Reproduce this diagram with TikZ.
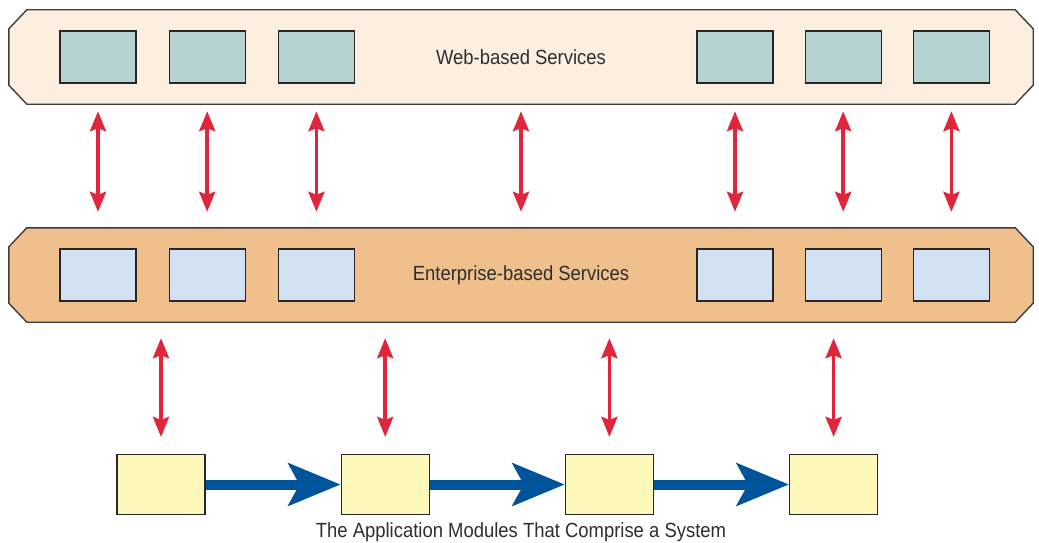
\documentclass[tikz,border=0pt]{standalone}
\usepackage{fontspec}
\setmainfont{Liberation Sans}[FakeStretch=0.9]
\usetikzlibrary{arrows.meta, positioning}

\definecolor{webfill}{HTML}{FDEFE0}
\definecolor{webboxfill}{HTML}{B5D3D1}
\definecolor{entfill}{HTML}{EFC08B}
\definecolor{entboxfill}{HTML}{D3E2F3}
\definecolor{modfill}{HTML}{FDF8B9}
\definecolor{linkred}{HTML}{E0253D}
\definecolor{flowblue}{HTML}{00559A}
\definecolor{edgegrey}{HTML}{3C3C3C}
\definecolor{textgrey}{HTML}{2E2E2E}

% chamfered outline round a band node
\newcommand{\bandoutline}[2]{%
  \draw[bandline, fill=#2] ([xshift=18pt]#1.north west) -- ([xshift=-18pt]#1.north east)
    -- ([yshift=-19pt]#1.north east) -- ([yshift=19pt]#1.south east)
    -- ([xshift=-18pt]#1.south east) -- ([xshift=18pt]#1.south west)
    -- ([yshift=19pt]#1.south west) -- ([yshift=-19pt]#1.north west) -- cycle;}

\begin{document}
\begin{tikzpicture}[
    x=1pt, y=-1pt,
    band/.style={rectangle, minimum width=1024pt, minimum height=94pt, inner sep=0pt},
    bandline/.style={draw=edgegrey, line width=1.4pt, line join=miter},
    box/.style={rectangle, draw=black!85, line width=1.2pt, minimum width=76pt, minimum height=52pt, inner sep=0pt},
    modbox/.style={rectangle, draw=black!85, fill=modfill, line width=1.2pt, minimum width=88pt, minimum height=60pt, inner sep=0pt},
    bandtext/.style={text=textgrey, font=\fontsize{20.5}{24}\selectfont},
    link/.style={draw=linkred, line width=3.5pt, {Stealth[length=20pt,width=16pt,inset=3pt]}-{Stealth[length=20pt,width=16pt,inset=3pt]}},
    flow/.style={draw=flowblue, line width=10pt, -{Stealth[length=52pt,width=42pt,inset=11pt]}}
]
\useasboundingbox (0,0) rectangle (1039,543);

% Web layer
\node[band] (web) at (521,57) {};
\bandoutline{web}{webfill}
\node[bandtext] (webtext) at (web) {Web-based Services};
\node[box, fill=webboxfill] (w1) at (98,57) {};
\node[box, fill=webboxfill, right=32pt of w1] (w2) {};
\node[box, fill=webboxfill, right=32pt of w2] (w3) {};
\node[box, fill=webboxfill] (w4) at (735,57) {};
\node[box, fill=webboxfill, right=31pt of w4] (w5) {};
\node[box, fill=webboxfill, right=31pt of w5] (w6) {};

% Enterprise layer
\node[band] (ent) at (521,275) {};
\bandoutline{ent}{entfill}
\node[bandtext] (enttext) at (ent) {Enterprise-based Services};
\node[box, fill=entboxfill] (e1) at (w1 |- ent) {};
\node[box, fill=entboxfill] (e2) at (w2 |- ent) {};
\node[box, fill=entboxfill] (e3) at (w3 |- ent) {};
\node[box, fill=entboxfill] (e4) at (w4 |- ent) {};
\node[box, fill=entboxfill] (e5) at (w5 |- ent) {};
\node[box, fill=entboxfill] (e6) at (w6 |- ent) {};

% Application modules
\node[modbox] (m1) at (161,484.5) {};
\node[modbox, right=135pt of m1] (m2) {};
\node[modbox, right=135pt of m2] (m3) {};
\node[modbox, right=135pt of m3] (m4) {};
\node[bandtext, anchor=base] (caption) at (521,537) {The Application Modules That Comprise a System};

% Arrows
\foreach \i in {1,2,3,4,5,6}
    \draw[link, shorten <=7pt, shorten >=16pt] (w\i |- web.south) -- (e\i |- ent.north);
\draw[link, shorten <=7pt, shorten >=16pt] (web.south) -- (ent.north);

\foreach \i in {1,2,3,4}
    \draw[link, shorten <=16pt, shorten >=17pt] (m\i |- ent.south) -- (m\i.north);

\draw[flow] (m1) -- (m2);
\draw[flow] (m2) -- (m3);
\draw[flow] (m3) -- (m4);

\end{tikzpicture}
\end{document}
